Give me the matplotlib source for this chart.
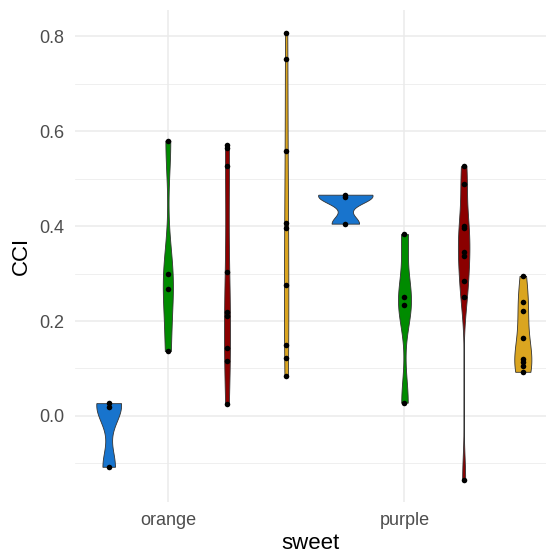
import numpy as np
import matplotlib
matplotlib.use("Agg")
import matplotlib.pyplot as plt

plt.rcParams['font.family'] = ['Liberation Sans', 'DejaVu Sans']

sweet = ['orange', 'purple']
groups = ['blue', 'green', 'red', 'gold']
colors = ['#1874CD', '#008B00', '#8B0000', '#DAA520']
group_offsets = [-0.25, 0.0, 0.25, 0.5]

cci = {
    ('orange', 'blue'): [0.027, 0.019, -0.107],
    ('orange', 'green'): [0.580, 0.300, 0.267, 0.137],
    ('orange', 'red'): [0.570, 0.565, 0.526, 0.303, 0.219, 0.211, 0.143, 0.116, 0.025],
    ('orange', 'gold'): [0.806, 0.752, 0.558, 0.406, 0.396, 0.276, 0.149, 0.122, 0.084],
    ('purple', 'blue'): [0.466, 0.462, 0.405],
    ('purple', 'green'): [0.383, 0.251, 0.233, 0.028],
    ('purple', 'red'): [0.526, 0.488, 0.400, 0.396, 0.346, 0.337, 0.285, 0.251, -0.135],
    ('purple', 'gold'): [0.295, 0.239, 0.222, 0.164, 0.121, 0.114, 0.105, 0.093],
}


def bw_nrd0(x):
    x = np.asarray(x)
    hi = np.std(x, ddof=1)
    q75, q25 = np.percentile(x, [75, 25])
    lo = min(hi, (q75 - q25) / 1.34)
    if lo == 0:
        lo = hi or abs(x[0]) or 1
    return 0.9 * lo * len(x) ** -0.2


def density(x, n=512):
    x = np.asarray(x)
    bw = bw_nrd0(x)
    ys = np.linspace(x.min(), x.max(), n)
    d = np.exp(-0.5 * ((ys[:, None] - x[None, :]) / bw) ** 2).sum(axis=1)
    d = d / (len(x) * bw * np.sqrt(2 * np.pi))
    return ys, d


dens = {k: density(v) for k, v in cci.items()}
max_d = max(d.max() for _, d in dens.values())
width = 0.23

fig, ax = plt.subplots(figsize=(5.52, 5.54), dpi=100)
fig.subplots_adjust(left=0.136, right=0.99, bottom=0.094, top=0.982)

for i, s in enumerate(sweet):
    for g, col, off in zip(groups, colors, group_offsets):
        ys, d = dens[(s, g)]
        xc = i + 1 + off
        hw = d / max_d * width / 2
        ax.fill_betweenx(ys, xc - hw, xc + hw, facecolor=col,
                         edgecolor='#333333', linewidth=0.6, zorder=2)
        vals = cci[(s, g)]
        ax.scatter([xc] * len(vals), vals, s=16, color='black', zorder=3,
                   linewidths=0)

ax.set_xlim(0.608, 2.60)
ax.set_ylim(-0.181, 0.855)
ax.set_xticks([1, 2])
ax.set_xticklabels(sweet)
ax.set_yticks([0.0, 0.2, 0.4, 0.6, 0.8])
ax.set_yticklabels(['0.0', '0.2', '0.4', '0.6', '0.8'])
ax.set_yticks([-0.1, 0.1, 0.3, 0.5, 0.7], minor=True)

ax.grid(True, which='major', color='#EBEBEB', linewidth=1.1, zorder=0)
ax.grid(True, which='minor', axis='y', color='#EBEBEB', linewidth=0.55, zorder=0)
ax.set_axisbelow(True)
for sp in ax.spines.values():
    sp.set_visible(False)
ax.tick_params(which='both', length=0, labelsize=13, labelcolor='#4D4D4D')
ax.tick_params(axis='x', pad=7)
ax.tick_params(axis='y', pad=8)

ax.set_xlabel('sweet', fontsize=16, labelpad=3)
ax.set_ylabel('CCI', fontsize=16, labelpad=5)

fig.savefig('out.png', dpi=100)
